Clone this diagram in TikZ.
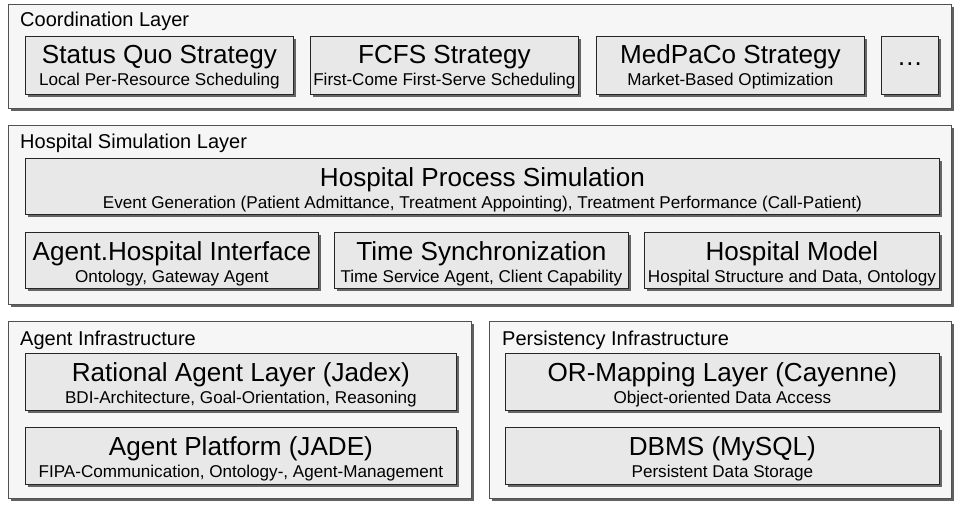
\documentclass[tikz,border=0pt]{standalone}
\usepackage{fontspec}
\setmainfont{Liberation Sans}
\usetikzlibrary{shadows}

\tikzset{
  layerbox/.style={draw=black!68, fill=black!3.5, line width=0.9pt, rectangle, inner sep=0pt,
    anchor=north west,
    drop shadow={shadow xshift=2.6pt, shadow yshift=-2.6pt, fill=black!62, opacity=1}},
  compbox/.style={draw=black!85, fill=black!9, line width=0.8pt, rectangle, inner sep=0pt,
    anchor=north west,
    drop shadow={shadow xshift=2.6pt, shadow yshift=-2.6pt, fill=black!60, opacity=1}},
  layertitle/.style={anchor=base west, inner sep=0pt, font=\fontsize{20}{22}\selectfont},
  comptitle/.style={anchor=base, inner sep=0pt, font=\fontsize{26.1}{28}\selectfont},
  compsub/.style={anchor=base, inner sep=0pt, font=\fontsize{17.1}{19}\selectfont},
}

% box from (x1,y1) to (x2,y2) with a title and a subtitle line
\newcommand\layerrect[5]{%
  \node[layerbox, minimum width={(#4-#2)*1pt}, minimum height={(#5-#3)*1pt}]
    (#1) at (#2,#3) {};}
\newcommand\component[7]{%
  \node[compbox, minimum width={(#4-#2)*1pt}, minimum height={(#5-#3)*1pt}]
    (#1) at (#2,#3) {};
  \node[comptitle] (#1-title) at ([yshift=-28pt]#1.north) {#6};
  \node[compsub] (#1-sub) at ([yshift=-50pt]#1.north) {#7};}

\begin{document}
\begin{tikzpicture}[x=1pt, y=-1pt]
  \useasboundingbox (0,0) rectangle (956,508);

  % ---- Coordination layer ----
  \layerrect{coord}{8}{4}{951}{108}
  \node[layertitle] (coord-label) at (20,27) {Coordination Layer};
  \component{sq}{25}{36}{293}{94}{Status Quo Strategy}{Local Per-Resource Scheduling}
  \component{fcfs}{310}{36}{578}{94}{FCFS Strategy}{First-Come First-Serve Scheduling}
  \component{medpaco}{596}{36}{864}{94}{MedPaCo Strategy}{Market-Based Optimization}
  \node[compbox, minimum width=57pt, minimum height=58pt] (more) at (881,36) {};
  \node[comptitle] (more-title) at ([yshift=-30pt]more.north) {…};

  % ---- Hospital simulation layer ----
  \layerrect{hosp}{8}{125}{951}{304}
  \node[layertitle] (hosp-label) at (20,149) {Hospital Simulation Layer};
  \component{proc}{25}{158}{939}{214}{Hospital Process Simulation}{Event Generation (Patient Admittance, Treatment Appointing), Treatment Performance (Call-Patient)}
  \component{iface}{25}{232}{318}{288}{Agent.Hospital Interface}{Ontology, Gateway Agent}
  \component{time}{334}{232}{628}{288}{Time Synchronization}{Time Service Agent, Client Capability}
  \component{model}{644}{232}{939}{288}{Hospital Model}{Hospital Structure and Data, Ontology}

  % ---- Agent infrastructure ----
  \layerrect{agent}{8}{321}{471}{498}
  \node[layertitle] (agent-label) at (20,345) {Agent Infrastructure};
  \component{jadex}{25}{353}{456}{410}{Rational Agent Layer (Jadex)}{BDI-Architecture, Goal-Orientation, Reasoning}
  \component{jade}{25}{427}{456}{484}{Agent Platform (JADE)}{FIPA-Communication, Ontology-, Agent-Management}

  % ---- Persistency infrastructure ----
  \layerrect{persist}{489}{321}{951}{498}
  \node[layertitle] (persist-label) at (502,345) {Persistency Infrastructure};
  \component{orm}{505}{353}{939}{410}{OR-Mapping Layer (Cayenne)}{Object-oriented Data Access}
  \component{dbms}{505}{427}{939}{484}{DBMS (MySQL)}{Persistent Data Storage}
\end{tikzpicture}
\end{document}
